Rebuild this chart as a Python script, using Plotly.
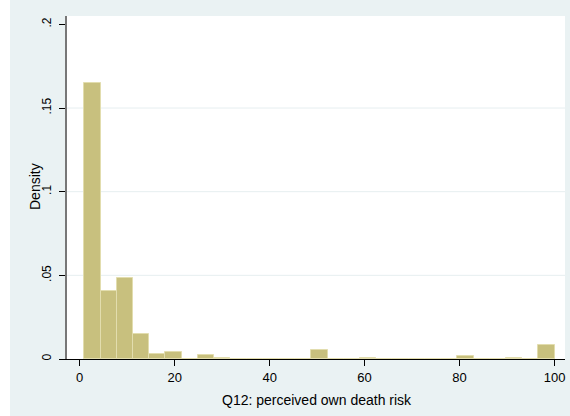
import plotly.graph_objects as go

# Histogram bins (Stata-style): 29 bins starting at 1, width 99/29
bin_start = 1.0
bin_width = 99.0 / 29
densities = [0.1650, 0.0408, 0.0487, 0.0151, 0.0032, 0.0042, 0.0, 0.0022, 0.0008,
             0.0, 0.0, 0.0, 0.0, 0.0, 0.0054, 0.0, 0.0, 0.0008, 0.0, 0.0,
             0.0, 0.0, 0.0, 0.0016, 0.0, 0.0, 0.0008, 0.0, 0.0081]
x_ticks = [0, 20, 40, 60, 80, 100]
y_ticks = [0, 0.05, 0.1, 0.15, 0.2]
y_tick_labels = ["0", ".05", ".1", ".15", ".2"]
grid_vals = [0.05, 0.1, 0.15]
x_title = "Q12: perceived own death risk"
y_title = "Density"

centers = [bin_start + bin_width * (i + 0.5) for i in range(len(densities))]

W, H = 570, 416
L, R, T, B = 67, 5, 16, 57
pw = W - L - R
ph = H - T - B

fig = go.Figure()
fig.add_trace(go.Bar(
    x=centers, y=densities, width=[bin_width] * len(densities),
    marker=dict(color="#C8C07E", line=dict(color="#E2DDAE", width=1)),
    hoverinfo="x+y", showlegend=False,
))

shapes = []
shapes.append(dict(type="rect", xref="paper", yref="paper",
                   x0=(10 - L) / pw, x1=(W - L) / pw, y0=-B / ph, y1=(H - T + 1) / ph,
                   fillcolor="#EAF2F3", line=dict(width=0), layer="below"))
shapes.append(dict(type="rect", xref="paper", yref="paper",
                   x0=0, x1=1, y0=0, y1=1,
                   fillcolor="white", line=dict(width=0), layer="below"))
for g in grid_vals:
    shapes.append(dict(type="line", xref="paper", yref="y", x0=0, x1=1, y0=g, y1=g,
                       line=dict(color="#E6EEF0", width=1), layer="below"))

annotations = [
    dict(text=x_title, xref="paper", yref="paper", x=(317 - L) / pw, y=-(400 - (H - B)) / ph,
         xanchor="center", yanchor="middle", showarrow=False, font=dict(size=14)),
    dict(text=y_title, xref="paper", yref="paper", x=(35 - L) / pw, y=(H - B - 187) / ph,
         xanchor="center", yanchor="middle", textangle=-90, showarrow=False,
         font=dict(size=14)),
]

fig.update_layout(
    width=W, height=H,
    margin=dict(l=L, r=R, t=T, b=B),
    paper_bgcolor="white", plot_bgcolor="rgba(0,0,0,0)",
    bargap=0,
    shapes=shapes,
    annotations=annotations,
    font=dict(family="Liberation Sans, Arial, sans-serif", size=13, color="black"),
    xaxis=dict(range=[-2.67, 102.2], tickvals=x_ticks, ticks="outside", ticklen=6,
               tickcolor="black", showline=True, linecolor="black", linewidth=1,
               showgrid=False, zeroline=False, tickfont=dict(size=13)),
    yaxis=dict(range=[0, 0.205], tickvals=y_ticks, ticktext=y_tick_labels,
               tickangle=-90, ticks="outside", ticklen=6, tickcolor="black",
               showline=True, linecolor="#777777", linewidth=2,
               showgrid=False, zeroline=False, tickfont=dict(size=12),
               ticklabelstandoff=3),
)

fig.write_html("out.html")
